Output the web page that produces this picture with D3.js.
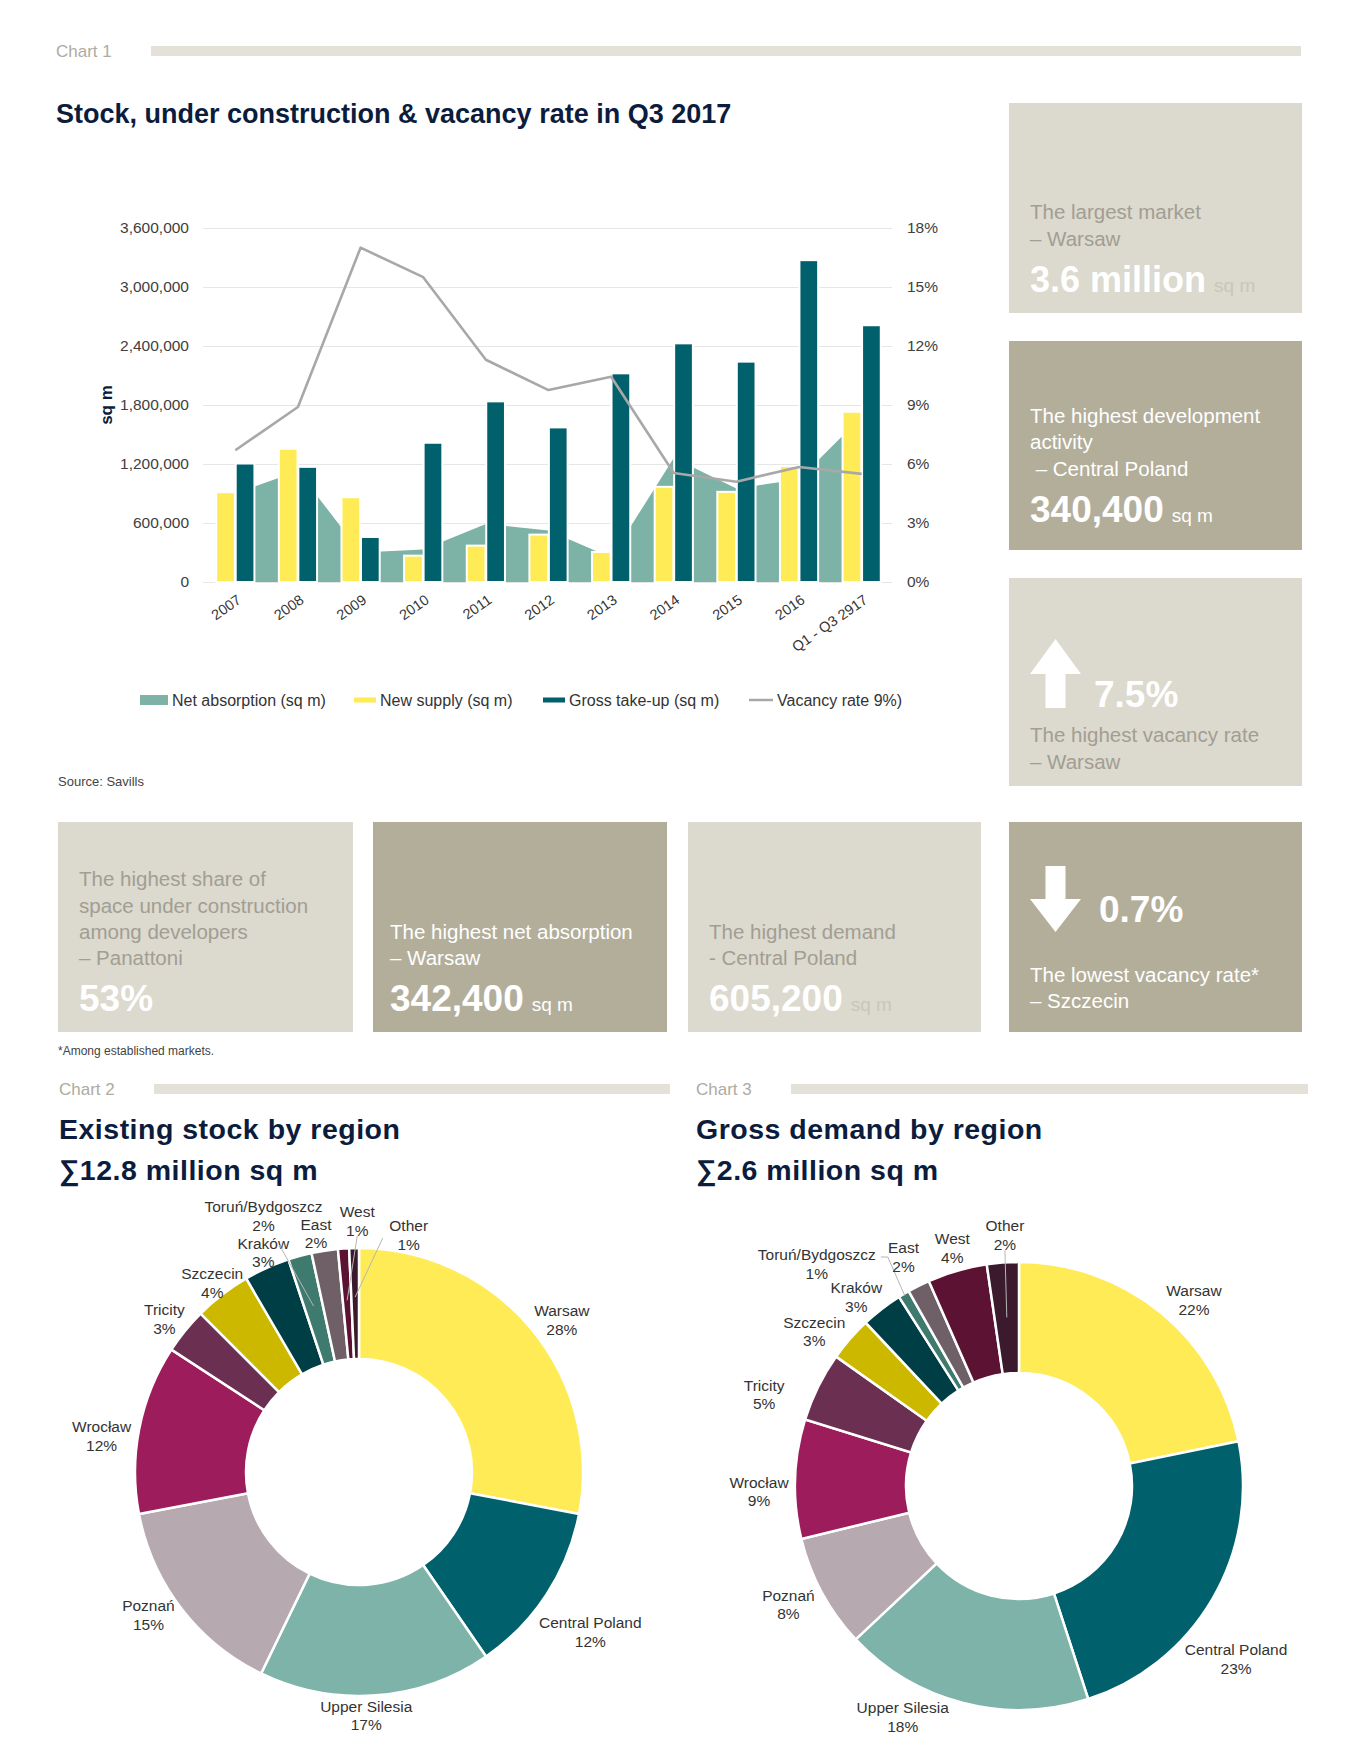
<!DOCTYPE html>
<html>
<head>
<meta charset="utf-8">
<script src="https://cdn.jsdelivr.net/npm/d3@7/dist/d3.min.js"></script>
<style>
  body { margin: 0; background: #fff; }
  svg { display: block; font-family: "Liberation Sans", Arial, Helvetica, sans-serif; }
</style>
</head>
<body>
<svg id="page" width="1363" height="1749"></svg>
<script>
// ---- chart 1 data
const years = ['2007', '2008', '2009', '2010', '2011', '2012', '2013', '2014', '2015', '2016', 'Q1 - Q3 2917'];
const netAbsorption = [900000, 1130000, 300000, 330000, 590000, 525000, 250000, 1260000, 950000, 1045000, 1680000];
const newSupply = [913000, 1355000, 862000, 268000, 370000, 482000, 306000, 968000, 917000, 1178000, 1731000];
const grossTakeUp = [1205000, 1171000, 458000, 1416000, 1837000, 1572000, 2122000, 2427000, 2241000, 3273000, 2611000];
const vacancyRate = [6.7, 8.9, 17.0, 15.5, 11.3, 9.76, 10.44, 5.54, 5.1, 5.85, 5.5];
const leftTicks = [0, 600000, 1200000, 1800000, 2400000, 3000000, 3600000];
const rightTicks = [0, 3, 6, 9, 12, 15, 18];

// ---- chart 2 / 3 data
const regions = ['Warsaw', 'Central Poland', 'Upper Silesia', 'Poznań', 'Wrocław', 'Tricity', 'Szczecin',
  'Kraków', 'Toruń/Bydgoszcz', 'East', 'West', 'Other'];
const stockShare = [28, 12.4, 16.8, 14.8, 12.2, 3.3, 4.1, 3.3, 1.7, 1.9, 0.8, 0.7];
const demandShare = [21.8, 23.2, 18.0, 8.2, 8.6, 5.0, 3.2, 3.0, 0.8, 1.6, 4.3, 2.3];
const regionColors = ['#ffeb55', '#00616c', '#7db3a8', '#b6a9b0', '#9d1c5b', '#6a2f51', '#cdb800',
  '#003e46', '#3f7a6e', '#6f6068', '#5c1333', '#3b1a2d'];

// label placement (angle in degrees from 12 o'clock, distance from centre), as the source places them
const stockLabelPos = [[53, 254], [124.6, 281], [178.3, 243], [236, 254], [278.1, 260], [308.3, 248],
  [322.3, 240], [336.5, 240], [339.6, 274], [349.8, 243], [359.6, 252], [11.8, 243]];
const demandLabelPos = [[43.1, 256], [128.4, 277], [206.8, 258], [242.9, 259], [268.9, 260], [289.9, 271],
  [307.2, 257], [319.4, 250], [317.8, 301], [333.3, 257], [344.4, 248], [356.8, 252]];

const C = {
  navy: '#0c1c3d', axisText: '#404040', grid: '#e6e6e6',
  net: '#7db2a7', supply: '#ffeb55', take: '#00606b', vac: '#a8a8a8',
  light: '#dcd9ce', dark: '#b3ae9a', lightText: '#a19e93', tag: '#aeaba1', tagBar: '#e4e1d8'
};

const svg = d3.select('#page');

// ---- section headers "Chart n" with bar
function chartTag(label, x, barX, barW, y) {
  svg.append('text').attr('x', x).attr('y', y + 6).attr('font-size', 17).attr('fill', C.tag).text(label);
  svg.append('rect').attr('x', barX).attr('y', y - 5).attr('width', barW).attr('height', 10).attr('fill', C.tagBar);
}
chartTag('Chart 1', 56, 151, 1150, 51);
chartTag('Chart 2', 59, 154, 516, 1089);
chartTag('Chart 3', 696, 791, 517, 1089);

svg.append('text').attr('x', 56).attr('y', 123).attr('font-size', 27).attr('font-weight', 'bold')
  .attr('fill', C.navy).text('Stock, under construction & vacancy rate in Q3 2017');

// ---- chart 1
const c1 = { left: 204, right: 893, top: 228, bottom: 582 };
const x = d3.scaleBand().domain(years).range([c1.left, c1.right]);
const sub = d3.scaleBand().domain(['supply', 'take'])
  .range([x.bandwidth() * 0.195, x.bandwidth() * 0.805]).paddingInner(0.04);
const y = d3.scaleLinear().domain([0, 3600000]).range([c1.bottom, c1.top]);
const yR = d3.scaleLinear().domain([0, 18]).range([c1.bottom, c1.top]);
const cx = d => x(d) + x.bandwidth() / 2;

const gLeft = svg.append('g').attr('transform', `translate(${c1.left - 1},0)`)
  .call(d3.axisLeft(y).tickValues(leftTicks).tickFormat(d3.format(','))
    .tickSize(-(c1.right - c1.left)).tickPadding(14));
gLeft.select('.domain').remove();
gLeft.selectAll('line').attr('stroke', C.grid);
gLeft.selectAll('text').attr('font-size', 15.5).attr('fill', C.axisText).attr('font-family', null);

const gRight = svg.append('g').attr('transform', `translate(${c1.right},0)`)
  .call(d3.axisRight(yR).tickValues(rightTicks).tickFormat(d => d + '%').tickSize(0).tickPadding(14));
gRight.select('.domain').remove();
gRight.selectAll('text').attr('font-size', 15.5).attr('fill', C.axisText).attr('font-family', null);

svg.append('text').attr('transform', 'translate(112,405) rotate(-90)')
  .attr('text-anchor', 'middle').attr('font-size', 17).attr('font-weight', 'bold').attr('fill', C.navy)
  .text('sq m');

// net absorption as an area behind the columns
const area = d3.area().x((d, i) => cx(years[i])).y0(y(0)).y1(d => y(d));
svg.append('path').datum(netAbsorption).attr('fill', C.net).attr('d', area);

const bars = svg.append('g');
bars.selectAll('.sup').data(newSupply).join('rect')
  .attr('x', (d, i) => x(years[i]) + sub('supply')).attr('width', sub.bandwidth())
  .attr('y', d => y(d)).attr('height', d => y(0) - y(d))
  .attr('fill', C.supply).attr('stroke', '#fff').attr('stroke-width', 2);
bars.selectAll('.take').data(grossTakeUp).join('rect')
  .attr('x', (d, i) => x(years[i]) + sub('take')).attr('width', sub.bandwidth())
  .attr('y', d => y(d)).attr('height', d => y(0) - y(d))
  .attr('fill', C.take).attr('stroke', '#fff').attr('stroke-width', 2);

const vline = d3.line().x((d, i) => cx(years[i])).y(d => yR(d));
svg.append('path').datum(vacancyRate).attr('fill', 'none').attr('stroke', C.vac)
  .attr('stroke-width', 2.6).attr('stroke-linejoin', 'round').attr('d', vline);

svg.append('g').selectAll('text').data(years).join('text')
  .attr('transform', d => `translate(${cx(d) + 4},${c1.bottom + 16}) rotate(-35)`)
  .attr('text-anchor', 'end').attr('dy', '0.35em').attr('font-size', 14.5).attr('fill', '#333')
  .text(d => d);

// legend
const legend = [
  { label: 'Net absorption (sq m)', color: C.net, x: 140, w: 28, h: 10 },
  { label: 'New supply (sq m)', color: C.supply, x: 354, w: 22, h: 5 },
  { label: 'Gross take-up (sq m)', color: C.take, x: 543, w: 22, h: 5 },
  { label: 'Vacancy rate 9%)', color: C.vac, x: 749, w: 24, h: 2.5 }
];
const lg = svg.append('g').selectAll('g').data(legend).join('g')
  .attr('transform', d => `translate(${d.x},700)`);
lg.append('rect').attr('x', 0).attr('y', d => -d.h / 2).attr('width', d => d.w).attr('height', d => d.h)
  .attr('fill', d => d.color);
lg.append('text').attr('x', d => d.w + 4).attr('dy', '0.35em').attr('font-size', 16).attr('fill', '#333')
  .text(d => d.label);

svg.append('text').attr('x', 58).attr('y', 786).attr('font-size', 13).attr('fill', '#444').text('Source: Savills');

// ---- info panels
const panels = [
  { x: 1009, y: 103, w: 293, h: 210, tone: 'light', lines: ['The largest market', '– Warsaw'], base: [219, 246], big: '3.6 million', unit: 'sq m', bigY: 292, bigSize: 36 },
  { x: 1009, y: 341, w: 293, h: 209, tone: 'dark', lines: ['The highest development', 'activity', ' – Central Poland'], base: [423, 449, 476], big: '340,400', unit: 'sq m', bigY: 522 },
  { x: 1009, y: 578, w: 293, h: 208, tone: 'light', lines: ['The highest vacancy rate', '– Warsaw'], base: [742, 769], big: '7.5%', bigX: 1094, bigY: 707, arrow: 'up' },
  { x: 58, y: 822, w: 295, h: 210, tone: 'light', lines: ['The highest share of', 'space under construction', 'among developers', '– Panattoni'], base: [886, 913, 939, 965], big: '53%', bigY: 1011 },
  { x: 373, y: 822, w: 294, h: 210, tone: 'dark', lines: ['The highest net absorption', '– Warsaw'], base: [939, 965], big: '342,400', unit: 'sq m', bigY: 1011 },
  { x: 688, y: 822, w: 293, h: 210, tone: 'light', lines: ['The highest demand', '- Central Poland'], base: [939, 965], big: '605,200', unit: 'sq m', bigY: 1011 },
  { x: 1009, y: 822, w: 293, h: 210, tone: 'dark', lines: ['The lowest vacancy rate*', '– Szczecin'], base: [982, 1008], big: '0.7%', bigX: 1099, bigY: 922, arrow: 'down' }
];
panels.forEach(p => {
  const g = svg.append('g');
  g.append('rect').attr('x', p.x).attr('y', p.y).attr('width', p.w).attr('height', p.h)
    .attr('fill', p.tone === 'light' ? C.light : C.dark);
  const tx = p.x + (p.x === 373 ? 17 : 21);
  const txtColor = p.tone === 'light' ? C.lightText : '#fff';
  p.lines.forEach((l, i) => {
    g.append('text').attr('x', tx).attr('y', p.base[i]).attr('font-size', 20.5).attr('fill', txtColor)
      .attr('xml:space', 'preserve').text(l);
  });
  const big = g.append('text').attr('x', p.bigX || tx).attr('y', p.bigY).attr('fill', '#fff');
  big.append('tspan').attr('font-size', p.bigSize || 37).attr('font-weight', 'bold').text(p.big);
  if (p.unit) {
    big.append('tspan').attr('dx', 8).attr('font-size', 19)
      .attr('fill', p.tone === 'light' ? '#c9c6bb' : '#fff').text(p.unit);
  }
  if (p.arrow) {
    const ax = p.x + 21, aw = 51, sw = 20;
    const mid = ax + aw / 2;
    let d;
    if (p.arrow === 'up') {
      const top = p.y + 61, headB = p.y + 96, bot = p.y + 130;
      d = `M${mid},${top} L${ax + aw},${headB} L${mid + sw / 2},${headB} L${mid + sw / 2},${bot} L${mid - sw / 2},${bot} L${mid - sw / 2},${headB} L${ax},${headB} Z`;
    } else {
      const top = p.y + 44, headB = p.y + 77, bot = p.y + 110;
      d = `M${mid - sw / 2},${top} L${mid + sw / 2},${top} L${mid + sw / 2},${headB} L${ax + aw},${headB} L${mid},${bot} L${ax},${headB} L${mid - sw / 2},${headB} Z`;
    }
    g.append('path').attr('d', d).attr('fill', '#fff');
  }
});

svg.append('text').attr('x', 58).attr('y', 1055).attr('font-size', 12).attr('fill', '#444')
  .text('*Among established markets.');

// ---- donut titles
function donutTitle(x, t1, t2) {
  svg.append('text').attr('x', x).attr('y', 1139).attr('font-size', 28.5).attr('font-weight', 'bold')
    .attr('letter-spacing', 0.5).attr('fill', C.navy).text(t1);
  svg.append('text').attr('x', x).attr('y', 1180).attr('font-size', 28.5).attr('font-weight', 'bold')
    .attr('letter-spacing', 0.5).attr('fill', C.navy).text(t2);
}
donutTitle(59, 'Existing stock by region', '∑12.8 million sq m');
donutTitle(696, 'Gross demand by region', '∑2.6 million sq m');

// ---- donuts
const rad = deg => deg * Math.PI / 180;
function donut(cxp, cyp, values, labelPos, leaders) {
  const R = 224, r0 = 113;
  const arcs = d3.pie().sort(null).value(d => d)(values);
  const arc = d3.arc().innerRadius(r0).outerRadius(R);
  const g = svg.append('g').attr('transform', `translate(${cxp},${cyp})`);
  g.selectAll('path').data(arcs).join('path').attr('d', arc)
    .attr('fill', (d, i) => regionColors[i]).attr('stroke', '#fff').attr('stroke-width', 2.5);
  const pt = (a, r) => [r * Math.sin(a), -r * Math.cos(a)];
  arcs.forEach((d, i) => {
    const name = regions[i];
    const mid = (d.startAngle + d.endAngle) / 2;
    const [lx, ly] = pt(rad(labelPos[i][0]), labelPos[i][1]);
    const t = leaders[name];
    if (t) {
      const [ex, ey] = pt(mid, t.leadR);
      const pts = [[lx + t.lead[0], ly + t.lead[1]]];
      if (t.via) pts.push([lx + t.via[0], ly + t.via[1]]);
      pts.push([ex, ey]);
      g.append('polyline').attr('points', pts.join(' '))
        .attr('fill', 'none').attr('stroke', '#b5b5b5').attr('stroke-width', 1);
    }
    const txt = g.append('text').attr('x', lx).attr('y', ly).attr('text-anchor', 'middle')
      .attr('font-size', 15.5).attr('fill', '#333');
    txt.append('tspan').attr('x', lx).attr('dy', '-0.2em').text(name);
    txt.append('tspan').attr('x', lx).attr('dy', '1.2em').text(Math.round(values[i]) + '%');
  });
}
donut(359, 1472, stockShare, stockLabelPos, {
  'Toruń/Bydgoszcz': { lead: [16, 30], leadR: 172 },
  'West': { lead: [0, 16], leadR: 172 },
  'Other': { lead: [-26, 4], leadR: 175 }
});
donut(1019, 1486, demandShare, demandLabelPos, {
  'Toruń/Bydgoszcz': { lead: [64, -6], via: [71, -6], leadR: 222 },
  'Other': { lead: [0, 16], leadR: 169 }
});
</script>
</body>
</html>
